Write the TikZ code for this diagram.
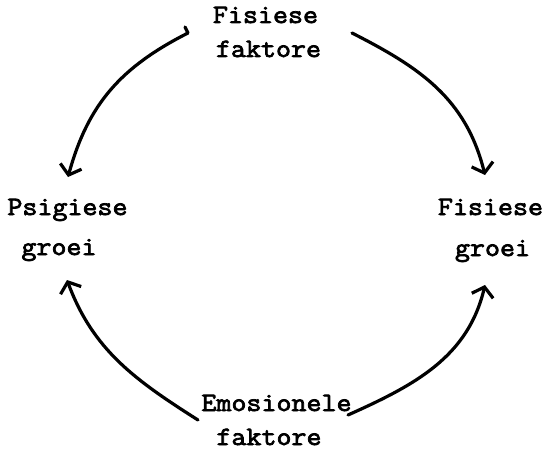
\documentclass[tikz,border=0pt]{standalone}
\usepackage{fontspec}
\newfontfamily\typefont[FakeBold=2.8,FakeStretch=1.1]{Latin Modern Mono}
\usetikzlibrary{arrows.meta}
\begin{document}
\begin{tikzpicture}[x=1pt,y=-1pt,
  lab/.style={font=\typefont\fontsize{26.5}{30}\selectfont, inner sep=0pt, anchor=base},
  arr/.style={line width=3.2pt, line cap=round, line join=round, -{Straight Barb[length=9pt,width=22pt]}}]
\useasboundingbox (0,0) rectangle (549,452);
% labels
\node[lab] (t1) at (265.5,23) {Fisiese};
\node[lab] (t2) at (268.5,57) {faktore};
\node[lab] (l1) at (67.5,215) {Psigiese};
\node[lab] (l2) at (59,255) {groei};
\node[lab] (r1) at (490.5,215) {Fisiese};
\node[lab] (r2) at (492.5,256) {groei};
\node[lab] (b1) at (276.5,411) {Emosionele};
\node[lab] (b2) at (269,445) {faktore};
% arrow end points
\coordinate (a1h) at (185,27);
\coordinate (a1s) at (188,33);
\coordinate (a1e) at (68,177);
\coordinate (a2s) at (352,33);
\coordinate (a2e) at (485,175);
\coordinate (a3s) at (198,420);
\coordinate (a3e) at (67,280);
\coordinate (a4s) at (348,415);
\coordinate (a4e) at (485,285);
% arrows
\draw[arr] (a1h) -- (a1s) .. controls (121,67) and (88,104) .. (a1e);
\draw[arr] (a2s) .. controls (421,68) and (466,99) .. (a2e);
\draw[arr] (a3s) .. controls (135,380) and (93,350) .. (a3e);
\draw[arr] (a4s) .. controls (415,385) and (468,357) .. (a4e);
\end{tikzpicture}
\end{document}
